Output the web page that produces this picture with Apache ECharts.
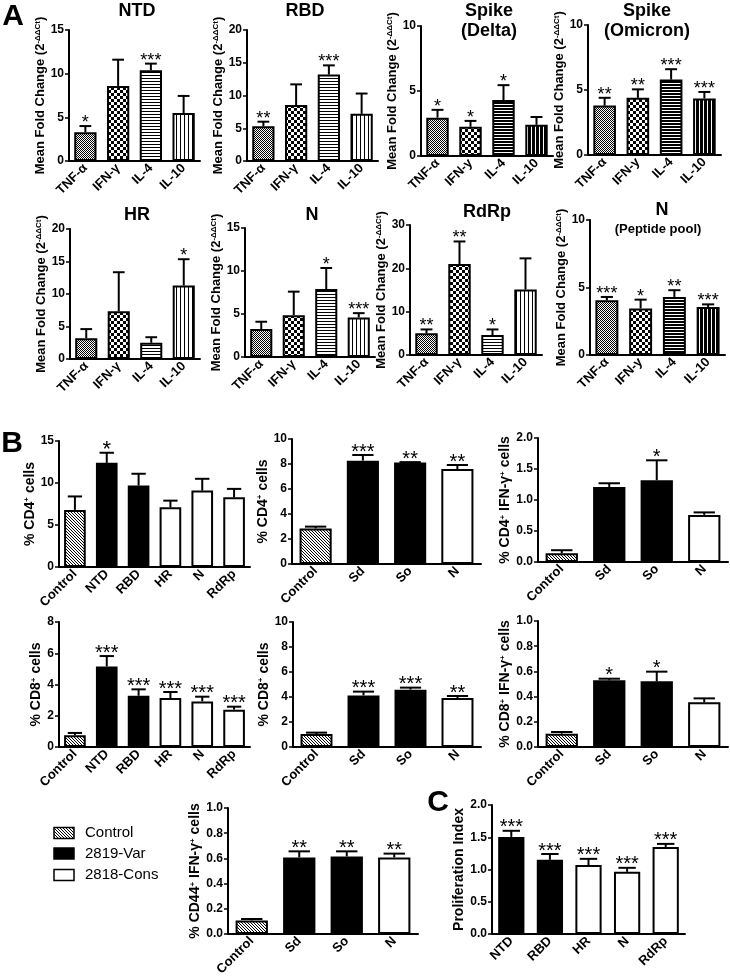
<!DOCTYPE html>
<html><head><meta charset="utf-8">
<script src="https://cdn.jsdelivr.net/npm/echarts@6/dist/echarts.min.js"></script>
<style>html,body{margin:0;padding:0;background:#fff}#c{width:730px;height:980px}</style>
</head><body><div id="c"></div>
<script>
// ---------------- DATA ----------------
const cytokines = ['TNF-α', 'IFN-γ', 'IL-4', 'IL-10'];
const cytokinesY = ['TNF-α', 'IFN-y', 'IL-4', 'IL-10'];

const ntdMean = [3.3, 8.6, 10.4, 5.5];
const ntdUpper = [4.0, 11.6, 11.15, 7.45];
const ntdSig = ['*', '', '***', ''];

const rbdMean = [5.3, 8.55, 13.2, 7.2];
const rbdUpper = [6.0, 11.7, 14.6, 10.3];
const rbdSig = ['**', '', '***', ''];

const deltaMean = [2.95, 2.25, 4.3, 2.4];
const deltaUpper = [3.55, 2.7, 5.45, 3.0];
const deltaSig = ['*', '*', '*', ''];

const omicronMean = [3.8, 4.4, 5.8, 4.35];
const omicronUpper = [4.4, 5.05, 6.6, 4.85];
const omicronSig = ['**', '**', '***', '***'];

const hrMean = [3.2, 7.35, 2.5, 11.3];
const hrUpper = [4.6, 13.35, 3.35, 15.35];
const hrSig = ['', '', '', '*'];

const nMean = [3.25, 4.85, 7.9, 4.6];
const nUpper = [4.1, 7.6, 10.35, 5.1];
const nSig = ['', '', '*', '***'];

const rdrpMean = [5.0, 21.0, 4.6, 15.1];
const rdrpUpper = [5.9, 26.2, 5.9, 22.3];
const rdrpSig = ['**', '**', '*', ''];

const pepMean = [4.05, 3.45, 4.3, 3.55];
const pepUpper = [4.3, 4.1, 4.8, 3.75];
const pepSig = ['***', '*', '**', '***'];

const antigens6 = ['Control', 'NTD', 'RBD', 'HR', 'N', 'RdRp'];
const groups6 = ['Control', '2819-Var', '2819-Var', '2818-Cons', '2818-Cons', '2818-Cons'];
const antigens4 = ['Control', 'Sd', 'So', 'N'];
const groups4 = ['Control', '2819-Var', '2819-Var', '2818-Cons'];
const antigensC = ['NTD', 'RBD', 'HR', 'N', 'RdRp'];
const groupsC = ['2819-Var', '2819-Var', '2818-Cons', '2818-Cons', '2818-Cons'];

const cd4Mean = [6.8, 12.4, 9.7, 7.1, 9.1, 8.3];
const cd4Upper = [8.4, 13.6, 11.1, 7.9, 10.5, 9.3];
const cd4Sig = ['', '*', '', '', '', ''];

const cd4sMean = [2.85, 8.27, 8.13, 7.6];
const cd4sUpper = [2.99, 8.72, 8.15, 7.92];
const cd4sSig = ['', '***', '**', '**'];

const cd4IfnMean = [0.14, 1.21, 1.32, 0.76];
const cd4IfnUpper = [0.19, 1.27, 1.64, 0.8];
const cd4IfnSig = ['', '', '*', ''];

const cd8Mean = [0.75, 5.16, 3.28, 3.13, 2.92, 2.39];
const cd8Upper = [0.9, 5.82, 3.69, 3.52, 3.22, 2.58];
const cd8Sig = ['', '***', '***', '***', '***', '***'];

const cd8sMean = [1.04, 4.13, 4.59, 3.92];
const cd8sUpper = [1.15, 4.43, 4.75, 4.08];
const cd8sSig = ['', '***', '***', '**'];

const cd8IfnMean = [0.106, 0.529, 0.521, 0.355];
const cd8IfnUpper = [0.119, 0.542, 0.598, 0.386];
const cd8IfnSig = ['', '*', '*', ''];

const cd44IfnMean = [0.108, 0.608, 0.616, 0.608];
const cd44IfnUpper = [0.119, 0.656, 0.656, 0.638];
const cd44IfnSig = ['', '**', '**', '**'];

const prolifMean = [1.505, 1.15, 1.07, 0.964, 1.35];
const prolifUpper = [1.60, 1.24, 1.165, 1.026, 1.397];
const prolifSig = ['***', '***', '***', '***', '***'];

const legendItems = ['Control', '2819-Var', '2818-Cons'];

// ---------------- STYLES ----------------
const FONT = '"Liberation Sans", Arial, Helvetica, sans-serif';
function pat(w, h, draw) {
  const c = document.createElement('canvas');
  c.width = w; c.height = h;
  const g = c.getContext('2d');
  g.fillStyle = '#fff'; g.fillRect(0, 0, w, h);
  g.fillStyle = '#000'; draw(g);
  return { image: c, repeat: 'repeat' };
}
const P = {
  dots: pat(2, 2, g => { g.fillRect(0, 0, 1, 1); g.fillRect(1, 1, 1, 1); }),
  checker: pat(6, 6, g => { g.fillRect(0, 0, 3, 3); g.fillRect(3, 3, 3, 3); }),
  hLines: pat(4, 3, g => { g.fillRect(0, 0, 4, 1); }),
  hLinesDense: pat(4, 3, g => { g.fillRect(0, 0, 4, 2); }),
  vLines: pat(4, 4, g => { g.fillRect(0, 0, 1, 4); }),
  vLinesDense: pat(4, 4, g => { g.fillRect(0, 0, 3, 4); }),
  hatch: pat(3, 3, g => { for (let i = 0; i < 3; i++) { g.fillRect(i, i, 1, 1); } }),
  black: '#000',
  white: '#fff'
};
const fillA = [P.dots, P.checker, P.hLines, P.vLines];
const fillA2 = [P.dots, P.checker, P.hLinesDense, P.vLinesDense];
const groupFill = { 'Control': P.hatch, '2819-Var': P.black, '2818-Cons': P.white };

const aName = '{a|Mean Fold Change (2}{s|-ΔΔCt}{a|)}';

const panels = [
  { cats: cytokines, mean: ntdMean, up: ntdUpper, sig: ntdSig, fills: fillA, box: [69, 30, 131, 131], max: 15, iv: 5, name: aName, gap: 16, star: 18, cap: 0.36, nf: 13 },
  { cats: cytokines, mean: rbdMean, up: rbdUpper, sig: rbdSig, fills: fillA, box: [247, 30, 131, 131], max: 20, iv: 5, name: aName, gap: 17, star: 18, cap: 0.36, nf: 13 },
  { cats: cytokinesY, mean: deltaMean, up: deltaUpper, sig: deltaSig, fills: fillA2, box: [421, 26, 132, 130], max: 10, iv: 5, name: aName, gap: 12, star: 18, cap: 0.36, nf: 13 },
  { cats: cytokinesY, mean: omicronMean, up: omicronUpper, sig: omicronSig, fills: fillA2, box: [588, 25, 133, 130], max: 10, iv: 5, name: aName, gap: 12, star: 18, cap: 0.36, nf: 13 },
  { cats: cytokines, mean: hrMean, up: hrUpper, sig: hrSig, fills: fillA, box: [70, 229, 130, 130], max: 20, iv: 5, name: aName, gap: 19, star: 18, cap: 0.36, nf: 13 },
  { cats: cytokines, mean: nMean, up: nUpper, sig: nSig, fills: fillA, box: [245, 228, 130, 129], max: 15, iv: 5, name: aName, gap: 20, star: 18, cap: 0.36, nf: 13 },
  { cats: cytokines, mean: rdrpMean, up: rdrpUpper, sig: rdrpSig, fills: fillA, box: [410, 225, 132, 130], max: 30, iv: 10, name: aName, gap: 19, star: 18, cap: 0.36, nf: 13 },
  { cats: cytokinesY, mean: pepMean, up: pepUpper, sig: pepSig, fills: fillA2, box: [590, 220, 135, 135], max: 10, iv: 5, name: aName, gap: 15, star: 18, cap: 0.36, nf: 13 },

  { cats: antigens6, mean: cd4Mean, up: cd4Upper, sig: cd4Sig, groups: groups6, box: [59, 441, 191, 126], max: 15, iv: 5, name: '{a|% CD4}{s|+}{a| cells}', gap: 13, star: 22, cap: 0.45, nf: 14 },
  { cats: antigens4, mean: cd4sMean, up: cd4sUpper, sig: cd4sSig, groups: groups4, box: [292, 439, 189, 125], max: 10, iv: 2, name: '{a|% CD4}{s|+}{a| cells}', gap: 14, star: 20, cap: 0.45, nf: 14 },
  { cats: antigens4, mean: cd4IfnMean, up: cd4IfnUpper, sig: cd4IfnSig, groups: groups4, box: [538, 438, 190, 124], max: 2, iv: 0.5, dec: 1, name: '{a|% CD4}{s|+}{a| IFN-γ}{s|+}{a| cells}', gap: 18, star: 20, cap: 0.45, nf: 14 },
  { cats: antigens6, mean: cd8Mean, up: cd8Upper, sig: cd8Sig, groups: groups6, box: [59, 622, 191, 125], max: 8, iv: 2, name: '{a|% CD8}{s|+}{a| cells}', gap: 13, star: 20, cap: 0.45, nf: 14 },
  { cats: antigens4, mean: cd8sMean, up: cd8sUpper, sig: cd8sSig, groups: groups4, box: [293, 622, 188, 125], max: 10, iv: 2, name: '{a|% CD8}{s|+}{a| cells}', gap: 13, star: 20, cap: 0.45, nf: 14 },
  { cats: antigens4, mean: cd8IfnMean, up: cd8IfnUpper, sig: cd8IfnSig, groups: groups4, box: [538, 621, 190, 126], max: 1, iv: 0.2, dec: 1, name: '{a|% CD8}{s|+}{a| IFN-γ}{s|+}{a| cells}', gap: 22, star: 20, cap: 0.45, nf: 14 },
  { cats: antigens4, mean: cd44IfnMean, up: cd44IfnUpper, sig: cd44IfnSig, groups: groups4, box: [228, 808, 190, 126], max: 1, iv: 0.2, dec: 1, name: '{a|% CD44}{s|+}{a| IFN-γ}{s|+}{a| cells}', gap: 23, star: 20, cap: 0.45, nf: 14 },
  { cats: antigensC, mean: prolifMean, up: prolifUpper, sig: prolifSig, groups: groupsC, box: [492, 805, 193, 129], max: 2, iv: 0.5, dec: 1, name: '{a|Proliferation Index}', gap: 26, star: 20, cap: 0.45, nf: 14 }
];

// ---------------- BUILD ----------------
const grid = [], xAxis = [], yAxis = [], series = [];
panels.forEach((p, k) => {
  grid.push({ left: p.box[0], top: p.box[1], width: p.box[2], height: p.box[3], containLabel: false });
  xAxis.push({
    type: 'category', gridIndex: k, data: p.cats,
    axisLine: { lineStyle: { color: '#000', width: 2 } },
    axisTick: { alignWithLabel: true, length: 4, lineStyle: { color: '#000', width: 1.5 } },
    axisLabel: { interval: 0, rotate: 45, margin: 5, color: '#000', fontFamily: FONT, fontWeight: 'bold', fontSize: 13 }
  });
  yAxis.push({
    type: 'value', gridIndex: k, min: 0, max: p.max, interval: p.iv,
    splitLine: { show: false },
    axisLine: { show: true, lineStyle: { color: '#000', width: 2 } },
    axisTick: { show: true, length: 4, lineStyle: { color: '#000', width: 1.5 } },
    axisLabel: { margin: 5, color: '#000', fontFamily: FONT, fontWeight: 'bold', fontSize: 12,
      formatter: v => p.dec ? v.toFixed(p.dec) : String(v) },
    name: p.name, nameLocation: 'middle', nameGap: p.gap,
    nameTextStyle: { color: '#000', fontFamily: FONT, fontWeight: 'bold', fontSize: p.nf,
      rich: {
        a: { fontSize: p.nf, fontWeight: 'bold', fontFamily: FONT, color: '#000' },
        s: { fontSize: 8, fontWeight: 'bold', fontFamily: FONT, color: '#000', verticalAlign: 'top' } } }
  });
  series.push({
    type: 'bar', xAxisIndex: k, yAxisIndex: k, barWidth: '68%', silent: true,
    itemStyle: { borderColor: '#000', borderWidth: 2 },
    data: p.mean.map((v, i) => ({ value: v, itemStyle: { color: p.groups ? groupFill[p.groups[i]] : p.fills[i] } }))
  });
  series.push({
    type: 'custom', xAxisIndex: k, yAxisIndex: k, silent: true, z: 5,
    data: p.mean.map((v, i) => [i, v, p.up[i]]),
    encode: { x: 0, y: [1, 2] },
    renderItem: (params, api) => {
      const i = api.value(0);
      const b = api.coord([i, api.value(1)]);
      const t = api.coord([i, api.value(2)]);
      const band = api.size([1, 0])[0];
      const half = band * p.cap / 2;
      const ch = [];
      if (api.value(2) > api.value(1)) {
        ch.push({ type: 'line', shape: { x1: b[0], y1: b[1], x2: t[0], y2: t[1] }, style: { stroke: '#000', lineWidth: 2 } });
        ch.push({ type: 'line', shape: { x1: t[0] - half, y1: t[1], x2: t[0] + half, y2: t[1] }, style: { stroke: '#000', lineWidth: 2 } });
      }
      const s = p.sig[params.dataIndex];
      if (s) ch.push({ type: 'text', style: { text: s, x: t[0], y: t[1] - 3, align: 'center', textAlign: 'center', verticalAlign: 'middle', textVerticalAlign: 'middle', font: 'normal ' + p.star + 'px ' + FONT, fill: '#000' } });
      return { type: 'group', children: ch };
    }
  });
});

function txt(x, y, text, size, weight, align) {
  return { type: 'text', x: x, y: y, silent: true, style: { text: text, x: 0, y: 0, font: weight + ' ' + size + 'px ' + FONT, fill: '#000',
    align: align || 'center', textAlign: align || 'center', verticalAlign: 'middle', textVerticalAlign: 'middle' } };
}
const graphic = [
  txt(13, 17, 'A', 30, 'bold'), txt(12, 444, 'B', 30, 'bold'), txt(438, 803, 'C', 30, 'bold'),
  txt(137, 11, 'NTD', 18, 'bold'), txt(305, 11, 'RBD', 18, 'bold'),
  txt(489, 11, 'Spike', 18, 'bold'), txt(489, 31, '(Delta)', 18, 'bold'),
  txt(647, 11, 'Spike', 18, 'bold'), txt(647, 31, '(Omicron)', 18, 'bold'),
  txt(137, 215, 'HR', 18, 'bold'), txt(312, 215, 'N', 18, 'bold'),
  txt(487, 212, 'RdRp', 18, 'bold'), txt(662, 210, 'N', 18, 'bold'), txt(658, 229, '(Peptide pool)', 13, 'bold')
];
const legY = [833, 853.5, 875];
legendItems.forEach((name, i) => {
  graphic.push({ type: 'rect', silent: true, shape: { x: 54, y: legY[i] - 5.5, width: 20, height: 11 },
    style: { fill: groupFill[name], stroke: '#000', lineWidth: 1.5 } });
  graphic.push(txt(85, legY[i], name, 15, 'normal', 'left'));
});

const chart = echarts.init(document.getElementById('c'), null, { renderer: 'canvas' });
chart.setOption({ animation: false, backgroundColor: '#fff', grid, xAxis, yAxis, series, graphic });
</script></body></html>
